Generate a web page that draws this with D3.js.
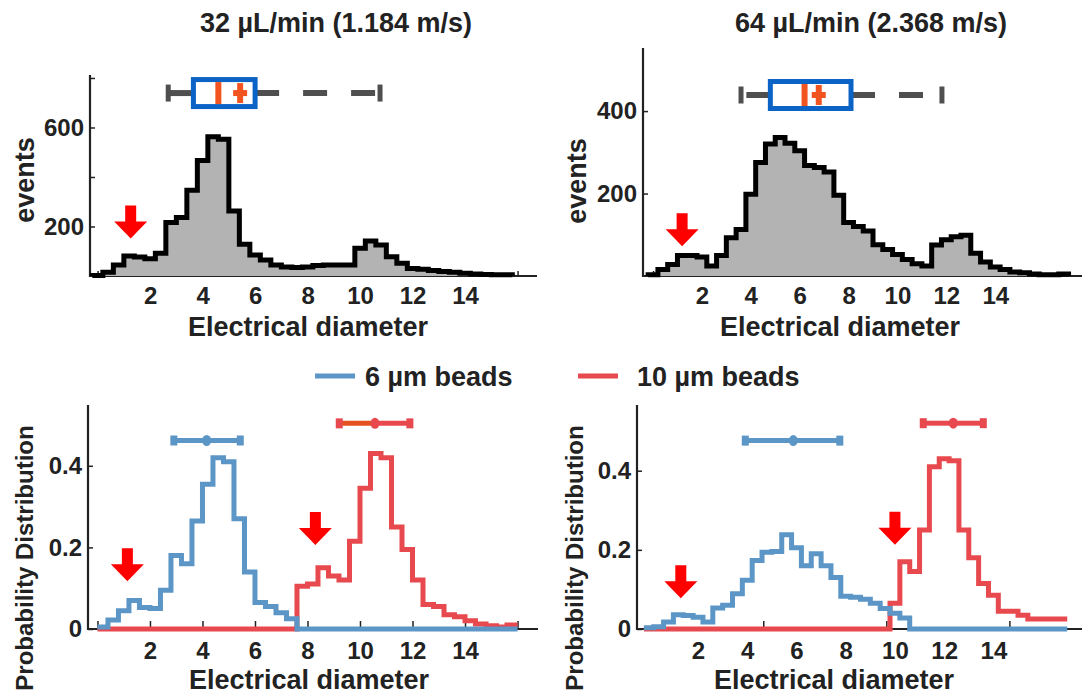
<!DOCTYPE html>
<html>
<head>
<meta charset="utf-8">
<script src="https://cdn.jsdelivr.net/npm/d3@7"></script>
<style>
  body { margin: 0; background: #fff; }
  svg { display: block; }
  text { font-family: "Liberation Sans", Arial, Helvetica, sans-serif; font-weight: bold; fill: #222; }
</style>
</head>
<body>
<svg id="chart" width="1082" height="695"></svg>
<script>
// ---------------- data ----------------
const titles = ["32 µL/min (1.184 m/s)", "64 µL/min (2.368 m/s)"];
const xLabel = "Electrical diameter";
const legendLabels = ["6 µm beads", "10 µm beads"];
const xTickLabels = [2, 4, 6, 8, 10, 12, 14];
const binWidth = 0.4;

// event histograms (first bin edge, then counts per 0.4 bin)
const eventsSlowStart = -0.2;
const eventsSlow = [2, 15, 44, 81, 77, 70, 92, 216, 236, 346, 467, 563, 552, 263, 128, 85, 65, 44, 36, 34,
  36, 42, 44, 44, 44, 112, 141, 125, 78, 52, 30, 27, 22, 18, 15, 11, 8, 6, 5, 5];
const eventsFastStart = -0.2;
const eventsFast = [3, 16, 28, 50, 50, 46, 24, 50, 93, 113, 198, 275, 320, 336, 322, 304, 268, 263, 252, 196,
  130, 120, 109, 76, 64, 52, 40, 30, 24, 75, 88, 95, 99, 55, 34, 22, 16, 10, 8, 5, 3, 3, 5];
const eventsSlowTicks = [200, 400, 600, 800];
const eventsSlowLabels = [200, 600];
const eventsFastTicks = [200, 400];

// box-plot statistics: [lower whisker, q1, median, mean, q3, upper whisker]
const boxSlow = [2.69, 3.65, 4.6, 5.43, 6.0, 10.76];
const boxFast = [3.6, 4.8, 6.2, 6.78, 8.1, 11.82];
const boxLevel = [739, 439];

// bead probability distributions
const probSlowStart = 0.0;
const beads6Slow = [0.005, 0.022, 0.045, 0.07, 0.053, 0.05, 0.095, 0.18, 0.16, 0.265, 0.355, 0.42, 0.41, 0.27, 0.14,
  0.065, 0.055, 0.04, 0.025, 0, 0, 0, 0, 0, 0, 0, 0, 0, 0, 0, 0, 0, 0, 0, 0, 0, 0, 0, 0, 0];
const beads10Slow = [0, 0, 0, 0, 0, 0, 0, 0, 0, 0, 0, 0, 0, 0, 0, 0, 0, 0, 0, 0.105, 0.11, 0.15, 0.13, 0.12,
  0.215, 0.345, 0.43, 0.42, 0.25, 0.195, 0.12, 0.06, 0.055, 0.035, 0.03, 0.02, 0.012, 0.008, 0.005, 0.01];
const probFastStart = -0.2;
const beads6Fast = [0.003, 0.006, 0.018, 0.036, 0.034, 0.03, 0.018, 0.053, 0.06, 0.089, 0.123, 0.173, 0.194, 0.196,
  0.238, 0.205, 0.16, 0.19, 0.16, 0.13, 0.083, 0.08, 0.075, 0.065, 0.052, 0.04, 0.028,
  0, 0, 0, 0, 0, 0, 0, 0, 0, 0, 0, 0, 0, 0, 0, 0];
const beads10Fast = [0, 0, 0, 0, 0, 0, 0, 0, 0, 0, 0, 0, 0, 0, 0, 0, 0, 0, 0, 0, 0, 0, 0, 0, 0,
  0.065, 0.17, 0.145, 0.25, 0.41, 0.43, 0.425, 0.25, 0.18, 0.115, 0.085, 0.045, 0.045, 0.035, 0.025, 0.025, 0.025, 0.025];
const probTicks = [0, 0.2, 0.4];

// spread bars: [low, centre, high] and their height
const spread6Slow = [2.91, 4.16, 5.44], spread6SlowLevel = 0.462;
const spread10Slow = [9.21, 10.57, 11.9], spread10SlowLevel = 0.504;
const spread6Fast = [3.92, 5.87, 7.76], spread6FastLevel = 0.476;
const spread10Fast = [11.15, 12.37, 13.59], spread10FastLevel = 0.52;

// arrow tips [x, y]
const arrowsTopSlow = [[1.26, 151]];
const arrowsTopFast = [[1.19, 72]];
const arrowsBottomSlow = [[1.14, 0.117], [8.3, 0.206]];
const arrowsBottomFast = [[1.3, 0.078], [10.0, 0.213]];

// ---------------- styles ----------------
const BLUE = "#5b96c6", RED = "#e8494e", RED_ORANGE = "#e6521f";
const BOX_BLUE = "#0b63c6", BOX_ORANGE = "#f2541f", WHISKER = "#4f4f4f";
const AXIS = "#222";

const svg = d3.select("#chart");

function makePanel(box, xDomain, yDomain) {
  const x = d3.scaleLinear().domain(xDomain).range([box.left, box.right]);
  const y = d3.scaleLinear().domain(yDomain).range([box.bottom, box.top]);
  return { x, y, box, g: svg.append("g") };
}

function steps(start, values) {
  const pts = values.map((v, i) => [start + i * binWidth, v]);
  pts.push([start + values.length * binWidth, values[values.length - 1]]);
  return pts;
}

function drawAxes(p, opt) {
  const { x, y, box, g } = p;
  // x ticks (inward)
  g.append("g").attr("transform", `translate(0,${box.bottom})`)
    .call(d3.axisBottom(x).tickValues(opt.xTicks).tickSize(-opt.xTickLen).tickSizeOuter(0).tickFormat(""))
    .call(a => a.select(".domain").remove())
    .call(a => a.selectAll("line").attr("stroke", AXIS).attr("stroke-width", 1.5));
  // x labels
  g.append("g").attr("transform", `translate(0,${box.bottom})`)
    .call(d3.axisBottom(x).tickValues(xTickLabels).tickSize(0).tickPadding(opt.xPad).tickFormat(d3.format("d")))
    .call(a => a.select(".domain").remove())
    .call(a => a.selectAll("text").attr("font-size", 24).attr("font-family", null).attr("fill", "#222"));
  // y ticks (inward)
  g.append("g").attr("transform", `translate(${box.left},0)`)
    .call(d3.axisLeft(y).tickValues(opt.yTicks).tickSize(-5).tickSizeOuter(0).tickFormat(""))
    .call(a => a.select(".domain").remove())
    .call(a => a.selectAll("line").attr("stroke", AXIS).attr("stroke-width", 1.5));
  g.append("g").attr("transform", `translate(${box.left},0)`)
    .call(d3.axisLeft(y).tickValues(opt.yLabels).tickSize(0).tickPadding(6).tickFormat(opt.yFormat))
    .call(a => a.select(".domain").remove())
    .call(a => a.selectAll("text").attr("font-size", 24).attr("font-family", null).attr("fill", "#222"));
  // axis lines
  g.append("path")
    .attr("d", `M${box.left},${box.top}V${box.bottom}H${box.right}`)
    .attr("fill", "none").attr("stroke", AXIS).attr("stroke-width", 2.2);
}

function drawHistogram(p, start, values) {
  const { x, y, g } = p;
  const pts = steps(start, values);
  g.append("path").datum(pts)
    .attr("d", d3.area().x(d => x(d[0])).y0(y(0)).y1(d => y(d[1])).curve(d3.curveStepAfter))
    .attr("fill", "#b3b3b3");
  const outline = [[start, 0], ...pts, [pts[pts.length - 1][0], 0]];
  g.append("path").datum(outline)
    .attr("d", d3.line().x(d => x(d[0])).y(d => y(d[1])).curve(d3.curveStepAfter))
    .attr("fill", "none").attr("stroke", "#000").attr("stroke-width", 5).attr("stroke-linejoin", "miter");
}

function drawBox(p, stats, level) {
  const { x, y, g } = p;
  const [lo, q1, med, mean, q3, hi] = stats;
  const cy = y(level);
  const dash = "24,24";
  // whiskers, dashed from the box outwards
  g.append("line").attr("x1", x(q3)).attr("x2", x(hi)).attr("y1", cy).attr("y2", cy)
    .attr("stroke", WHISKER).attr("stroke-width", 6).attr("stroke-dasharray", dash);
  g.append("line").attr("x1", x(q1)).attr("x2", x(lo)).attr("y1", cy).attr("y2", cy)
    .attr("stroke", WHISKER).attr("stroke-width", 6).attr("stroke-dasharray", dash);
  [lo, hi].forEach(v => {
    g.append("line").attr("x1", x(v)).attr("x2", x(v)).attr("y1", cy - 8.5).attr("y2", cy + 8.5)
      .attr("stroke", WHISKER).attr("stroke-width", 5);
  });
  g.append("rect").attr("x", x(q1)).attr("y", cy - 13.5).attr("width", x(q3) - x(q1)).attr("height", 27)
    .attr("fill", "#fff").attr("stroke", BOX_BLUE).attr("stroke-width", 5);
  g.append("line").attr("x1", x(med)).attr("x2", x(med)).attr("y1", cy - 11).attr("y2", cy + 11)
    .attr("stroke", BOX_ORANGE).attr("stroke-width", 6);
  g.append("line").attr("x1", x(mean) - 7).attr("x2", x(mean) + 7).attr("y1", cy).attr("y2", cy)
    .attr("stroke", BOX_ORANGE).attr("stroke-width", 6);
  g.append("line").attr("x1", x(mean)).attr("x2", x(mean)).attr("y1", cy - 10).attr("y2", cy + 10)
    .attr("stroke", BOX_ORANGE).attr("stroke-width", 6);
}

function drawStepLine(p, start, values, color) {
  const { x, y, g } = p;
  g.append("path").datum(steps(start, values))
    .attr("d", d3.line().x(d => x(d[0])).y(d => y(d[1])).curve(d3.curveStepAfter))
    .attr("fill", "none").attr("stroke", color).attr("stroke-width", 5).attr("stroke-linejoin", "miter");
}

function drawSpread(p, s, level, color, leftColor) {
  const { x, y, g } = p;
  const cy = y(level);
  g.append("line").attr("x1", x(s[1])).attr("x2", x(s[2])).attr("y1", cy).attr("y2", cy)
    .attr("stroke", color).attr("stroke-width", 5);
  g.append("line").attr("x1", x(s[0])).attr("x2", x(s[1])).attr("y1", cy).attr("y2", cy)
    .attr("stroke", leftColor || color).attr("stroke-width", 5);
  [s[0], s[2]].forEach(v => {
    g.append("rect").attr("x", x(v) - 3.5).attr("y", cy - 5).attr("width", 7).attr("height", 10).attr("fill", color);
  });
  g.append("ellipse").attr("cx", x(s[1])).attr("cy", cy).attr("rx", 4.5).attr("ry", 5.5).attr("fill", color);
}

function drawArrows(p, tips) {
  const { x, y, g } = p;
  const shape = [[-5.5, -33], [5.5, -33], [5.5, -17], [16.5, -17], [0, 0], [-16.5, -17], [-5.5, -17]];
  tips.forEach(t => {
    const tx = x(t[0]), ty = y(t[1]);
    g.append("polygon").attr("points", shape.map(d => [tx + d[0], ty + d[1]].join(",")).join(" "))
      .attr("fill", "#ff0000");
  });
}

function rotatedLabel(text, cx, cy, size) {
  svg.append("text").attr("transform", `translate(${cx},${cy}) rotate(-90)`)
    .attr("text-anchor", "middle").attr("font-size", size).text(text);
}

// ---------------- top: event histograms ----------------
const tl = makePanel({ left: 90, right: 537, top: 75, bottom: 276 }, [-0.29, 16.74], [0, 812]);
drawAxes(tl, { xTicks: d3.range(0, 17, 2), xTickLen: 5, xPad: 11, yTicks: eventsSlowTicks, yLabels: eventsSlowLabels, yFormat: d3.format("d") });
drawHistogram(tl, eventsSlowStart, eventsSlow);
drawBox(tl, boxSlow, boxLevel[0]);
drawArrows(tl, arrowsTopSlow);

const tr = makePanel({ left: 643, right: 1082, top: 48, bottom: 276 }, [-0.41, 17.55], [0, 553]);
drawAxes(tr, { xTicks: [0], xTickLen: 5, xPad: 11, yTicks: eventsFastTicks, yLabels: eventsFastTicks, yFormat: d3.format("d") });
drawHistogram(tr, eventsFastStart, eventsFast);
drawBox(tr, boxFast, boxLevel[1]);
drawArrows(tr, arrowsTopFast);

// ---------------- bottom: bead distributions ----------------
const fmtProb = d => d === 0 ? "0" : d3.format(".1f")(d);
const bl = makePanel({ left: 88, right: 538, top: 405, bottom: 629 }, [-0.36, 16.78], [0, 0.549]);
drawAxes(bl, { xTicks: d3.range(0, 17, 2), xTickLen: 8, xPad: 13, yTicks: probTicks, yLabels: probTicks, yFormat: fmtProb });
drawStepLine(bl, probSlowStart, beads10Slow, RED);
drawStepLine(bl, probSlowStart, beads6Slow, BLUE);
drawSpread(bl, spread6Slow, spread6SlowLevel, BLUE);
drawSpread(bl, spread10Slow, spread10SlowLevel, RED, RED_ORANGE);
drawArrows(bl, arrowsBottomSlow);

const br = makePanel({ left: 637, right: 1082, top: 405, bottom: 629 }, [-0.48, 17.6], [0, 0.566]);
drawAxes(br, { xTicks: [4.65, 9.65, 14.65], xTickLen: 8, xPad: 13, yTicks: probTicks, yLabels: probTicks, yFormat: fmtProb });
drawStepLine(br, probFastStart, beads10Fast, RED);
drawStepLine(br, probFastStart, beads6Fast, BLUE);
drawSpread(br, spread6Fast, spread6FastLevel, BLUE);
drawSpread(br, spread10Fast, spread10FastLevel, RED);
drawArrows(br, arrowsBottomFast);

// ---------------- titles and axis labels ----------------
svg.append("text").attr("x", 336).attr("y", 32).attr("text-anchor", "middle").attr("font-size", 27)
  .attr("fill", "#333").text(titles[0]);
svg.append("text").attr("x", 871).attr("y", 32).attr("text-anchor", "middle").attr("font-size", 27)
  .attr("fill", "#333").text(titles[1]);

[[308, 336], [840, 336], [309, 689], [834, 689]].forEach(([cx, by]) => {
  svg.append("text").attr("x", cx).attr("y", by).attr("text-anchor", "middle").attr("font-size", 27).text(xLabel);
});

rotatedLabel("events", 34, 180, 27);
rotatedLabel("events", 586, 181, 27);
rotatedLabel("Probability Distribution", 33, 558, 24);
rotatedLabel("Probability Distribution", 583, 558, 24);

// ---------------- legend ----------------
const legend = svg.append("g");
[[315, BLUE, legendLabels[0]], [578, RED, legendLabels[1]]].forEach(([lx, col, lab], i) => {
  legend.append("line").attr("x1", lx).attr("x2", lx + 40).attr("y1", 376).attr("y2", 376)
    .attr("stroke", col).attr("stroke-width", 5);
  legend.append("text").attr("x", lx + (i === 0 ? 50 : 59)).attr("y", 386).attr("font-size", 27).text(lab);
});
</script>
</body>
</html>
